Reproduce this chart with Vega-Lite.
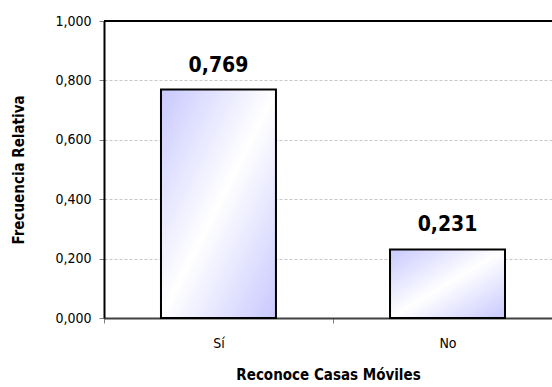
{
  "$schema": "https://vega.github.io/schema/vega-lite/v6.json",
  "width": 448,
  "height": 297,
  "autosize": {"type": "none"},
  "padding": {"left": 104, "top": 21, "right": 0, "bottom": 69},
  "background": "white",
  "data": {"values": [
    {"categoria": "Sí", "frecuencia": 0.769},
    {"categoria": "No", "frecuencia": 0.231}
  ]},
  "encoding": {
    "x": {
      "field": "categoria", "type": "nominal", "sort": null,
      "scale": {"paddingInner": 0.498, "paddingOuter": 0.227, "align": 0.548},
      "axis": {
        "title": "Reconoce Casas Móviles",
        "labelAngle": 0, "bandPosition": 0, "tickOffset": -57, "labelOffset": 57,
        "domainColor": "#404040", "domainWidth": 2,
        "tickColor": "#808080", "tickSize": 5,
        "labelPadding": 13, "titlePadding": 17, "titleFontSize": 15
      }
    },
    "y": {
      "field": "frecuencia", "type": "quantitative",
      "scale": {"domain": [0, 1], "nice": false},
      "axis": {
        "title": "Frecuencia Relativa", "titleFontSize": 15,
        "titleX": -86, "titleY": 148.5, "titleBaseline": "middle", "titleAngle": -90, "titleAlign": "center",
        "values": [0, 0.2, 0.4, 0.6, 0.8, 1.0],
        "format": ".3f",
        "domainColor": "#000000", "domainWidth": 2,
        "tickColor": "#808080", "tickSize": 5, "labelPadding": 8,
        "gridColor": "#c8c8c8", "gridDash": [3, 2], "gridWidth": 1
      }
    }
  },
  "layer": [
    {
      "mark": {
        "type": "bar", "stroke": "#000000", "strokeWidth": 2,
        "fill": {
          "gradient": "linear", "x1": 0, "y1": 0, "x2": 1, "y2": 1,
          "stops": [
            {"offset": 0, "color": "#c8c8ff"},
            {"offset": 0.5, "color": "#ffffff"},
            {"offset": 1, "color": "#c8c8ff"}
          ]
        }
      }
    },
    {
      "mark": {"type": "text", "baseline": "alphabetic", "dy": -18, "fontSize": 21, "fontWeight": "bold", "font": "DejaVu Sans Condensed", "color": "#000000"},
      "encoding": {"text": {"field": "frecuencia", "type": "quantitative", "format": ".3f"}}
    },
    {
      "mark": {"type": "rule", "color": "#000000", "strokeWidth": 2},
      "encoding": {"y": {"datum": 1}, "x": null}
    }
  ],
  "config": {
    "locale": {"number": {"decimal": ",", "thousands": ".", "grouping": [3], "currency": ["", ""]}},
    "view": {"stroke": null},
    "axis": {
      "labelFont": "DejaVu Sans Condensed", "labelFontSize": 14, "labelColor": "#000000",
      "titleFont": "DejaVu Sans Condensed", "titleFontSize": 14, "titleFontWeight": "bold", "titleColor": "#000000"
    }
  }
}
